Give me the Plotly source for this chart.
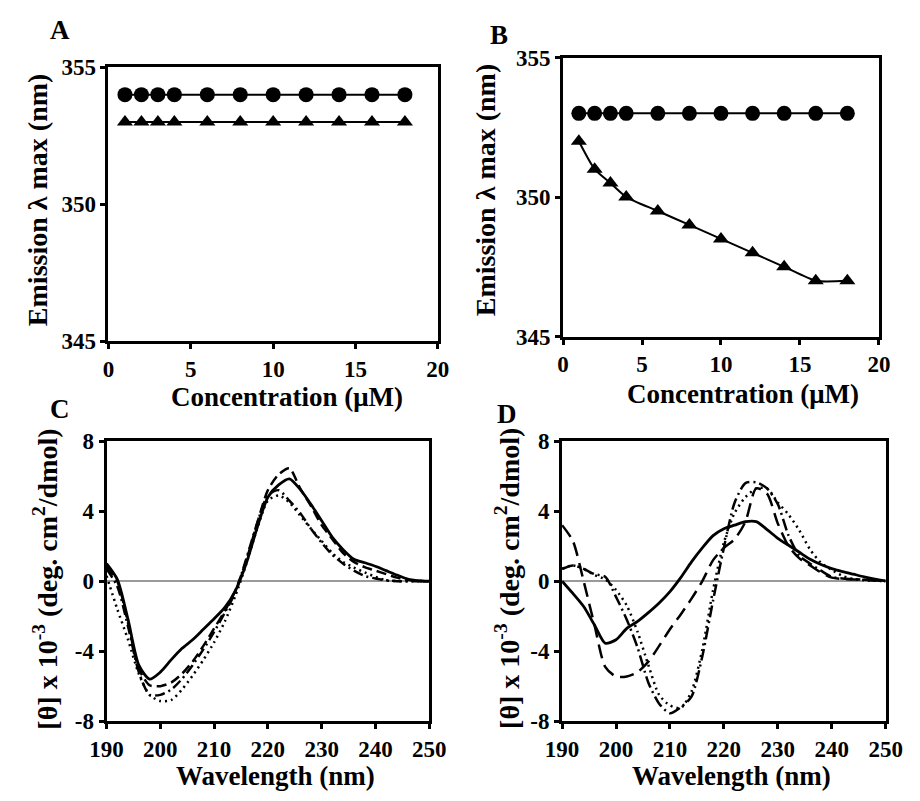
import plotly.graph_objects as go

# ---------------- data ----------------
conc = [1, 2, 3, 4, 6, 8, 10, 12, 14, 16, 18]
A_circle = [354] * 11
A_triangle = [353] * 11
B_circle = [353] * 11
B_triangle = [352, 351, 350.5, 350, 349.5, 349, 348.5, 348, 347.5, 347, 347]

wl = [190, 192, 194, 196, 198, 200, 202, 204, 206, 208, 210, 212, 214, 216, 218,
      220, 222, 224, 226, 228, 230, 232, 234, 236, 238, 240, 242, 244, 246, 248, 250]

C_solid = [1.0, 0.1, -2.2, -4.8, -5.6, -5.2, -4.5, -3.85, -3.35, -2.75, -2.15, -1.5, -0.52, 1.03, 3.05,
           4.8, 5.5, 5.85, 5.25, 4.4, 3.45, 2.5, 1.8, 1.25, 1.05, 0.85, 0.6, 0.35, 0.12, 0.03, 0.0]
C_dash = [0.8, 0.0, -2.4, -5.0, -5.95, -6.0, -5.8, -5.3, -4.6, -3.7, -2.7, -1.7, -0.5, 1.2, 3.3,
          5.2, 6.1, 6.45, 5.3, 4.3, 3.2, 2.4, 1.6, 1.1, 0.8, 0.6, 0.4, 0.2, 0.08, 0.02, 0.0]
C_dashdot = [0.7, -0.3, -2.6, -5.2, -6.5, -6.5, -6.2, -5.6, -4.8, -3.9, -2.9, -1.8, -0.6, 1.3, 3.3,
             4.9, 5.2, 4.6, 3.9, 3.0, 2.2, 1.5, 1.0, 0.6, 0.3, 0.15, 0.05, 0.0, 0.0, 0.0, 0.0]
C_dot = [0.3, -1.6, -3.35, -5.3, -6.5, -6.85, -6.8, -6.2, -5.4, -4.5, -3.5, -2.3, -0.8, 1.0, 3.0,
         4.6, 4.9, 4.5, 3.75, 3.0, 2.3, 1.6, 1.1, 0.78, 0.5, 0.25, 0.04, 0.0, 0.0, 0.0, 0.0]

D_solid = [0.0, -0.7, -1.45, -2.5, -3.55, -3.35, -2.7, -2.3, -1.8, -1.25, -0.6, 0.2, 1.1, 1.9, 2.6,
           3.0, 3.2, 3.4, 3.4, 2.95, 2.45, 2.05, 1.65, 1.25, 0.95, 0.72, 0.55, 0.4, 0.25, 0.12, 0.02]
D_dash = [3.2, 2.3, 0.0, -2.5, -4.9, -5.45, -5.45, -5.2, -4.6, -3.7, -2.75, -1.9, -1.0, 0.0, 1.2,
          1.9, 2.4, 3.4, 5.3, 5.0, 3.3, 2.0, 1.3, 0.9, 0.5, 0.2, 0.12, 0.1, 0.08, 0.04, 0.0]
D_dashdot = [0.7, 0.9, 0.7, 0.4, 0.25, -0.9, -2.2, -3.8, -5.8, -7.0, -7.55, -7.2, -6.6, -4.3, -1.1,
             1.9, 4.5, 5.6, 5.65, 5.3, 4.4, 2.6, 1.45, 1.0, 0.6, 0.25, 0.15, 0.12, 0.08, 0.04, 0.0]
D_dot = [0.7, 0.9, 0.7, 0.35, 0.1, -0.5, -1.4, -2.9, -4.8, -6.5, -7.1, -7.25, -6.3, -3.9, -0.5,
         2.2, 3.9, 4.8, 5.3, 5.3, 4.5, 3.8, 2.9, 1.8, 1.05, 0.65, 0.3, 0.12, 0.05, 0.02, 0.0]

conc_ticks = [0, 5, 10, 15, 20]
em_ticks = [345, 350, 355]
wl_ticks = [190, 200, 210, 220, 230, 240, 250]
cd_ticks = [-8, -4, 0, 4, 8]

FONT = "Liberation Serif, Times New Roman, serif"

fig = go.Figure()

def marker_trace(x, y, sym, size, xa, ya, spline=False):
    fig.add_trace(go.Scatter(
        x=x, y=y, mode="lines+markers", xaxis=xa, yaxis=ya,
        line=dict(color="black", width=2, shape="spline" if spline else "linear", smoothing=0.6),
        marker=dict(symbol=sym, size=size, color="black"),
        showlegend=False, hoverinfo="skip"))

marker_trace(conc, A_circle, "circle", 15, "x", "y")
marker_trace(conc, A_triangle, "triangle-up", 14, "x", "y")
marker_trace(conc, B_circle, "circle", 15, "x2", "y2")
marker_trace(conc, B_triangle, "triangle-up", 14, "x2", "y2", spline=True)

def cd_trace(y, dash, xa, ya, width=2.5):
    fig.add_trace(go.Scatter(
        x=wl, y=y, mode="lines", xaxis=xa, yaxis=ya,
        line=dict(color="black", width=width, dash=dash, shape="spline", smoothing=0.7),
        showlegend=False, hoverinfo="skip"))

cd_trace(C_dot, "2px,4px", "x3", "y3")
cd_trace(C_dashdot, "10px,4px,2px,4px", "x3", "y3")
cd_trace(C_dash, "10px,5px", "x3", "y3")
cd_trace(C_solid, "solid", "x3", "y3", 2.8)

cd_trace(D_dot, "2px,4px", "x4", "y4")
cd_trace(D_dashdot, "12px,4px,2px,4px", "x4", "y4")
cd_trace(D_dash, "14px,7px", "x4", "y4")
cd_trace(D_solid, "solid", "x4", "y4", 2.8)

def ax(domain, anchor, rng, ticks, zeroline=False):
    return dict(domain=domain, anchor=anchor, range=rng, tickvals=ticks,
                ticktext=["<b>%s</b>" % t for t in ticks],
                showline=True, linecolor="black", linewidth=3, mirror=True,
                ticks="outside", ticklen=5, tickwidth=2.5, tickcolor="black",
                showgrid=False, zeroline=zeroline, zerolinecolor="#9a9a9a", zerolinewidth=1.5,
                tickfont=dict(family=FONT, size=23, color="black"),
                fixedrange=True)

yA = [1 - 340 / 801, 1 - 57 / 801]
yB = [1 - 335 / 801, 1 - 47 / 801]
yCD = [1 - 732 / 801, 1 - 443 / 801]

fig.update_layout(
    width=920, height=801, margin=dict(l=0, r=0, t=0, b=0),
    paper_bgcolor="white", plot_bgcolor="white",
    font=dict(family=FONT, color="black"),
    xaxis=ax([95 / 920, 437 / 920], "y", [0, 20], conc_ticks),
    yaxis=ax(yA, "x", [345, 355], em_ticks),
    xaxis2=ax([567 / 920, 895 / 920], "y2", [0, 20], conc_ticks),
    yaxis2=ax(yB, "x2", [345, 355], em_ticks),
    xaxis3=ax([93 / 920, 428 / 920], "y3", [190, 250], wl_ticks),
    yaxis3=ax(yCD, "x3", [-8, 8], cd_ticks, zeroline=True),
    xaxis4=ax([566 / 920, 902 / 920], "y4", [190, 250], wl_ticks),
    yaxis4=ax(yCD, "x4", [-8, 8], cd_ticks, zeroline=True),
)

def label(text, x, y, size=27, angle=0):
    fig.add_annotation(text="<b>%s</b>" % text, x=x / 920, y=1 - y / 801, xref="paper", yref="paper",
                       showarrow=False, textangle=angle, xanchor="center", yanchor="middle",
                       font=dict(family=FONT, size=size, color="black"))

label("A", 45, 19)
label("B", 501, 24)
label("C", 45, 410)
label("D", 509, 415)

label("Emission λ max (nm)", 22, 194, 28, -90)
label("Emission λ max (nm)", 486, 184, 28, -90)
label("Concentration (μM)", 280, 397, 27)
label("Concentration (μM)", 754, 394, 27)

label("[θ] x 10<sup>-3</sup> (deg. cm<sup>2</sup>/dmol)", 30, 585, 28, -90)
label("[θ] x 10<sup>-3</sup> (deg. cm<sup>2</sup>/dmol)", 510, 585, 28, -90)
label("Wavelength (nm)", 268, 789, 27)
label("Wavelength (nm)", 742, 789, 27)

fig.write_html("out.html", config={"displayModeBar": False},
               post_script="document.body.style.margin='0';")
